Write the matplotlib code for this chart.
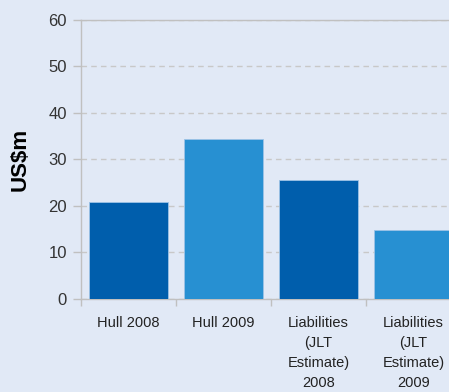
import matplotlib
matplotlib.use("Agg")
import matplotlib.pyplot as plt

categories = ["Hull 2008", "Hull 2009",
              "Liabilities\n(JLT\nEstimate)\n2008",
              "Liabilities\n(JLT\nEstimate)\n2009"]
values = [20.8, 34.3, 25.5, 14.8]
colors = ["#005EAC", "#2790D2", "#005EAC", "#2790D2"]
y_ticks = [0, 10, 20, 30, 40, 50, 60]

bg = "#E1E9F6"
plt.rcParams["font.family"] = ["Liberation Sans", "DejaVu Sans"]

fig = plt.figure(figsize=(4.49, 3.92), dpi=100, facecolor=bg)
ax = fig.add_axes([81 / 449, 93 / 392, 380 / 449, 279.5 / 392])
ax.set_facecolor(bg)

x = list(range(len(categories)))
ax.bar(x, values, width=0.83, color=colors, edgecolor="#9dc3e6",
       linewidth=0.6, zorder=3)

ax.set_xlim(-0.5, len(categories) - 0.5)
ax.set_ylim(0, 60)
ax.set_yticks(y_ticks)
ax.set_yticklabels([str(v) for v in y_ticks], fontsize=12, color="#333333")
ax.set_xticks(x)
ax.set_xticklabels(categories, fontsize=10.5, color="#222222", linespacing=1.55)
ax.tick_params(axis="x", length=0, pad=12)
ax.tick_params(axis="y", length=6, color="#c0c0c0", width=1, pad=4)

# category boundary ticks
ax.set_xticks([i - 0.5 for i in range(len(categories) + 1)], minor=True)
ax.tick_params(axis="x", which="minor", length=5, color="#c0c0c0", width=1)

ax.yaxis.grid(True, linestyle=(0, (4, 3)), color="#c8c8c8", linewidth=1, zorder=0)
ax.set_axisbelow(True)

ax.spines["right"].set_visible(False)
for side in ["left", "bottom", "top"]:
    ax.spines[side].set_color("#c0c0c0")
    ax.spines[side].set_linewidth(1)

ax.set_ylabel("US$m", fontsize=16, fontweight="bold", color="#000000", labelpad=13)

fig.savefig("out.png", dpi=100, facecolor=bg)
